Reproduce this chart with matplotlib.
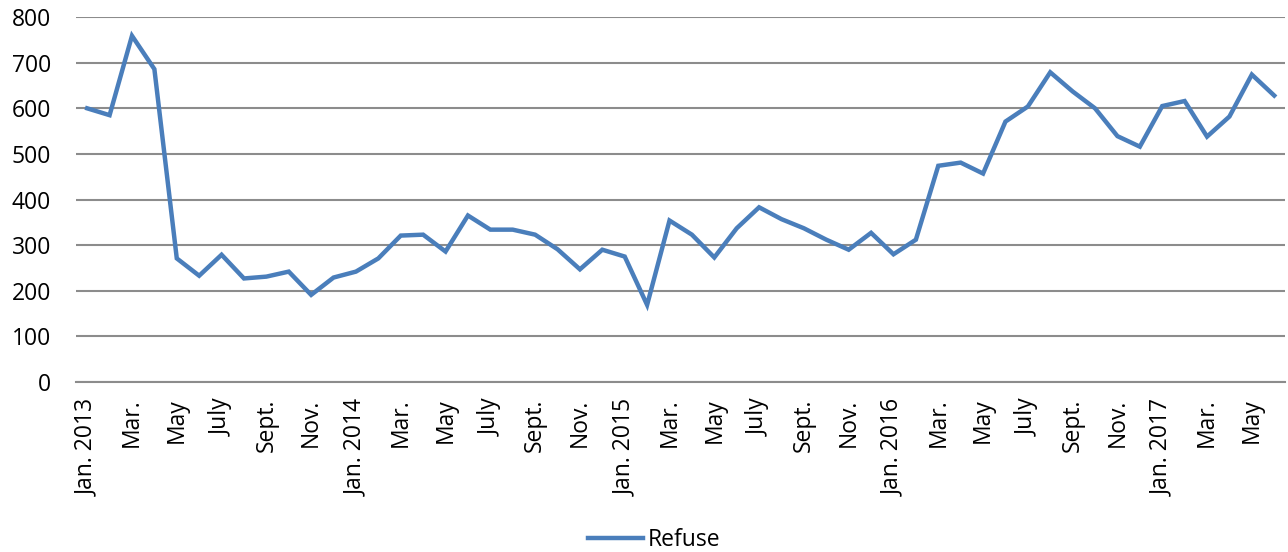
import matplotlib
matplotlib.use("Agg")
import matplotlib.pyplot as plt

months = ["Jan. 2013", "Feb.", "Mar.", "Apr.", "May", "June", "July", "Aug.", "Sept.", "Oct.", "Nov.", "Dec.",
          "Jan. 2014", "Feb.", "Mar.", "Apr.", "May", "June", "July", "Aug.", "Sept.", "Oct.", "Nov.", "Dec.",
          "Jan. 2015", "Feb.", "Mar.", "Apr.", "May", "June", "July", "Aug.", "Sept.", "Oct.", "Nov.", "Dec.",
          "Jan. 2016", "Feb.", "Mar.", "Apr.", "May", "June", "July", "Aug.", "Sept.", "Oct.", "Nov.", "Dec.",
          "Jan. 2017", "Feb.", "Mar.", "Apr.", "May", "June"]

refuse = [600, 585, 759, 686, 271, 233, 279, 227, 231, 242, 191, 229,
          242, 271, 321, 323, 286, 365, 334, 334, 323, 291, 247, 290,
          275, 169, 354, 323, 273, 337, 383, 357, 337, 312, 290, 327,
          280, 312, 474, 481, 457, 571, 604, 679, 637, 600, 539, 516,
          605, 616, 538, 582, 674, 628]

yticks = [0, 100, 200, 300, 400, 500, 600, 700, 800]

plt.rcParams['font.family'] = ['Open Sans', 'DejaVu Sans']

fig = plt.figure(figsize=(12.88, 5.52), dpi=100)
ax = fig.add_axes([0.059, 0.308, 0.939, 0.661])

x = list(range(len(refuse)))
ax.plot(x, refuse, color="#4A7EBB", linewidth=3.2, label="Refuse", solid_joinstyle="miter", zorder=3)

ax.set_ylim(0, 800)
ax.set_xlim(-0.5, len(refuse) - 0.5)
ax.set_yticks(yticks)
ax.set_yticklabels([str(v) for v in yticks], fontsize=16.5)
ax.yaxis.grid(True, color="#8C8C8C", linewidth=1.5)
ax.set_axisbelow(True)

tick_pos = x[::2]
ax.set_xticks(tick_pos)
ax.set_xticklabels([months[i] for i in tick_pos], rotation=90, fontsize=16.5)
ax.tick_params(axis="both", length=0)
ax.tick_params(axis="x", pad=12)
ax.tick_params(axis="y", pad=18)

for s in ["top", "right", "left"]:
    ax.spines[s].set_visible(False)
ax.spines["bottom"].set_color("#8C8C8C")
ax.spines["bottom"].set_linewidth(1.5)

fig.legend(loc="lower center", bbox_to_anchor=(0.508, -0.037), frameon=False, fontsize=16.5,
           handlelength=2.4, handletextpad=0.2)

fig.savefig("out.png", dpi=100)
